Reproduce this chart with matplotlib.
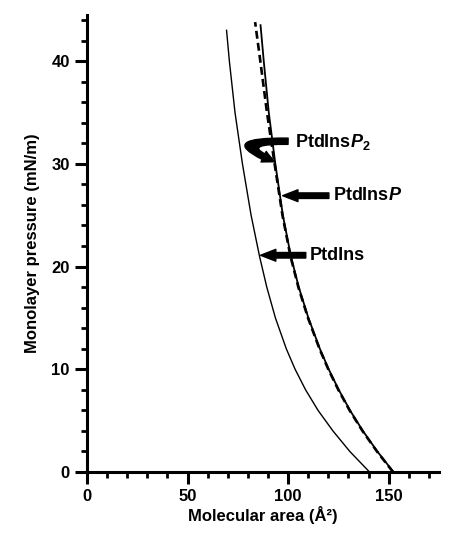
import matplotlib
matplotlib.use("Agg")
import matplotlib.pyplot as plt
from matplotlib.patches import FancyArrowPatch
from matplotlib.path import Path

plt.rcParams['font.family'] = ['Liberation Sans', 'DejaVu Sans']
plt.rcParams['font.weight'] = 'bold'
plt.rcParams['mathtext.fontset'] = 'custom'
plt.rcParams['mathtext.rm'] = 'Liberation Sans:bold'
plt.rcParams['mathtext.it'] = 'Liberation Sans:italic:bold'
plt.rcParams['mathtext.bf'] = 'Liberation Sans:bold'

# Monolayer pressure levels (mN/m)
pressure = [0, 2, 4, 6, 8, 10, 12, 15, 18, 21, 25, 30, 35, 40, 43]
# PtdIns (thin solid) molecular area
ptdins_area = [140.5, 130.7, 122.3, 114.9, 108.7, 103.5, 99.1, 93.7, 89.4, 85.8, 81.6, 77.3, 73.6, 70.8, 69.4]
# PtdInsP (solid)
ptdinsp_pressure = [0, 2, 4, 6, 8, 10, 12, 15, 18, 21, 25, 30, 35, 40, 43.5]
ptdinsp_area = [152.4, 144.4, 137.2, 130.8, 125.2, 120.2, 115.8, 110.1, 105.3, 101.4, 97.4, 93.65, 90.4, 87.9, 86.3]
# PtdInsP2 (dashed)
ptdinsp2_pressure = [0, 2, 4, 6, 8, 10, 12, 15, 18, 21, 25, 30, 35, 40, 43.8]
ptdinsp2_area = [152.2, 144.2, 137.0, 130.6, 125.0, 120.0, 115.6, 109.9, 105.1, 101.2, 97.2, 93.3, 89.5, 86.2, 83.6]

fig = plt.figure(figsize=(4.52, 5.34), dpi=100)
ax = fig.add_axes([0.1925, 0.1161, 0.7785, 0.856])

ax.plot(ptdins_area, pressure, color='black', lw=1.0)
ax.plot(ptdinsp_area, ptdinsp_pressure, color='black', lw=1.3)
ax.plot(ptdinsp2_area, ptdinsp2_pressure, color='black', lw=1.9, dashes=(3, 1.6))

ax.set_xlim(0, 175)
ax.set_ylim(0, 44.5)
ax.set_xticks([0, 50, 100, 150])
ax.set_xticks(range(0, 171, 10), minor=True)
ax.set_yticks([0, 10, 20, 30, 40])
ax.set_yticks(range(0, 45, 2), minor=True)
for s in ['top', 'right']:
    ax.spines[s].set_visible(False)
for s in ['left', 'bottom']:
    ax.spines[s].set_linewidth(2.2)
ax.tick_params(which='major', direction='out', length=8.5, width=2.2, labelsize=12, pad=4)
ax.tick_params(which='minor', direction='out', length=4.5, width=2.0)
for lab in ax.get_xticklabels() + ax.get_yticklabels():
    lab.set_fontweight('bold')

ax.set_xlabel('Molecular area (Å²)', fontsize=12, fontweight='bold', labelpad=1)
ax.set_ylabel('Monolayer pressure (mN/m)', fontsize=12, fontweight='bold', labelpad=8)

# Labels and arrows
ax.text(111, 21.1, 'PtdIns', fontsize=13, fontweight='bold', va='center', ha='left')
ax.text(122.4, 26.9, r'PtdIns$\mathit{P}$', fontsize=13, fontweight='bold', va='center', ha='left')
ax.text(103.5, 32.1, r'PtdIns$\mathit{P}_{\mathrm{2}}$', fontsize=13, fontweight='bold', va='center', ha='left')

style = "simple,head_width=8.5,head_length=11,tail_width=4"
ax.add_patch(FancyArrowPatch((108.8, 21.1), (86.3, 21.1), arrowstyle=style,
                             color='black', mutation_scale=1, shrinkA=0, shrinkB=0))
ax.add_patch(FancyArrowPatch((120.3, 26.9), (97.3, 26.9), arrowstyle=style,
                             color='black', mutation_scale=1, shrinkA=0, shrinkB=0))
curl = Path([(100.0, 32.2), (67.5, 32.3), (93.5, 30.2)],
            [Path.MOVETO, Path.CURVE3, Path.CURVE3])
ax.add_patch(FancyArrowPatch(path=curl, arrowstyle="simple,head_width=8.5,head_length=9,tail_width=4.5",
                             color='black', mutation_scale=1))

fig.savefig('out.png', dpi=100)
